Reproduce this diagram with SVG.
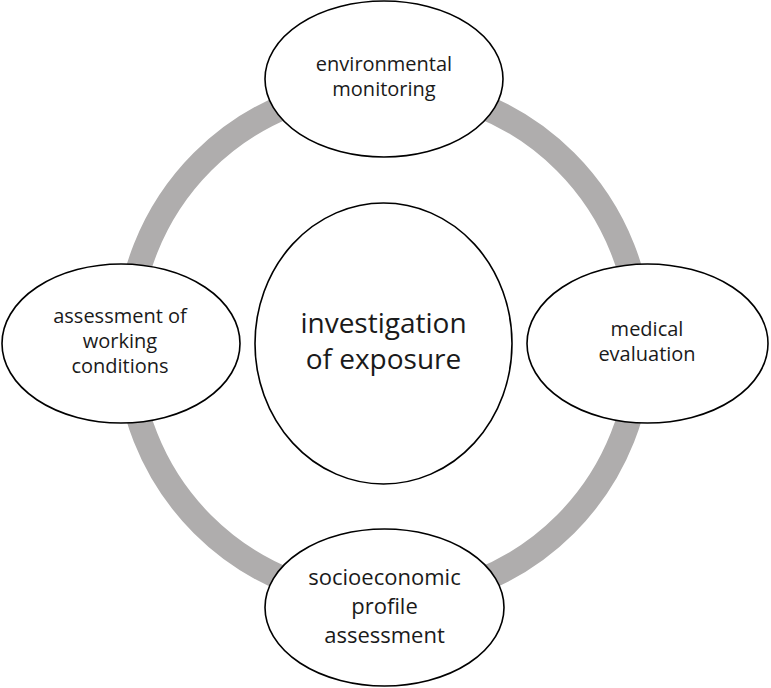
<svg xmlns="http://www.w3.org/2000/svg" width="771" height="688" viewBox="0 0 771 688">
<style>
.node{fill:#ffffff;stroke:#000000;stroke-width:1.6}
.t{font-family:"Open Sans","Noto Sans","Liberation Sans",sans-serif;fill:#1a1a1a;text-anchor:middle}
.s20{font-size:20px}
.s22{font-size:22px}
.s28{font-size:28px}
.ring{fill:none;stroke:#afadad;stroke-width:25}
</style>
<rect width="771" height="688" fill="#ffffff"/>
<g id="connectors">
<circle class="ring" cx="384" cy="343" r="256.5"/>
</g>
<g id="node-center">
<ellipse class="node" cx="383.5" cy="343.5" rx="128.5" ry="140.5"/>
<text class="t s28" x="383.5" y="333">investigation</text>
<text class="t s28" x="383.5" y="369">of exposure</text>
</g>
<g id="node-top">
<ellipse class="node" cx="384" cy="79" rx="119" ry="78"/>
<text class="t s20" x="384" y="71">environmental</text>
<text class="t s20" x="384" y="96">monitoring</text>
</g>
<g id="node-left">
<ellipse class="node" cx="121" cy="343.5" rx="119" ry="79.5"/>
<text class="t s20" x="120" y="323">assessment of</text>
<text class="t s20" x="120" y="348">working</text>
<text class="t s20" x="120" y="373">conditions</text>
</g>
<g id="node-right">
<ellipse class="node" cx="647.5" cy="343.5" rx="120.5" ry="79.5"/>
<text class="t s20" x="647" y="336">medical</text>
<text class="t s20" x="647" y="361">evaluation</text>
</g>
<g id="node-bottom">
<ellipse class="node" cx="384.5" cy="607.5" rx="119.5" ry="78.5"/>
<text class="t s22" x="384.5" y="585">socioeconomic</text>
<text class="t s22" x="384.5" y="614">profile</text>
<text class="t s22" x="384.5" y="643">assessment</text>
</g>
</svg>
